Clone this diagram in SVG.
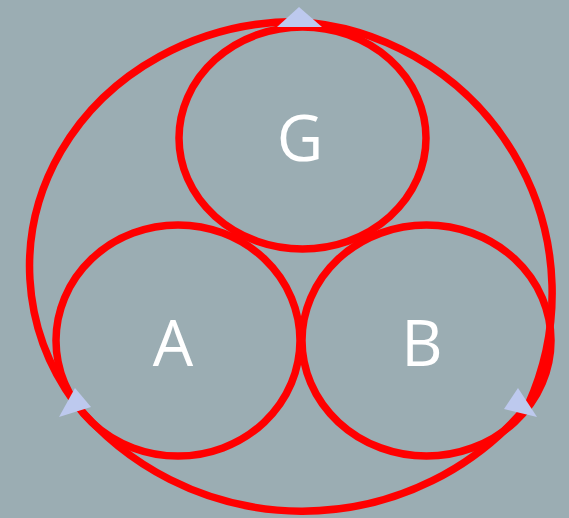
<svg xmlns="http://www.w3.org/2000/svg" width="569" height="518" viewBox="0 0 569 518">
<style>
.ring{fill:none;stroke:#ff0000;stroke-width:7.5}
.lbl{fill:#ffffff;font-family:"Open Sans","Noto Sans","DejaVu Sans",sans-serif;font-size:64px;text-anchor:middle}
.arr{fill:#bdc9ee}
</style>
<rect width="569" height="518" fill="#9badb3"/>
<g id="cycle">
<path class="ring" d="M297,21.5 A272,272 0 0 1 528,405 A293,293 0 0 1 75,403 A268,245 0 0 1 297,21.5"/>
</g>
<g id="G">
<ellipse class="ring" cx="302.5" cy="138" rx="123.5" ry="111"/>
<text class="lbl" x="300" y="161">G</text>
</g>
<g id="A">
<ellipse class="ring" cx="178" cy="340.5" rx="122" ry="115.5"/>
<text class="lbl" x="173" y="366">A</text>
</g>
<g id="B">
<ellipse class="ring" cx="426.5" cy="340.5" rx="124.5" ry="115.5"/>
<text class="lbl" x="422" y="366">B</text>
</g>
<g id="connectors">
<polygon class="arr" points="299,7 277,27 322,27"/>
<polygon class="arr" points="75,388 91,407 59,417"/>
<polygon class="arr" points="518,388 537,417 504,409"/>
</g>
</svg>
